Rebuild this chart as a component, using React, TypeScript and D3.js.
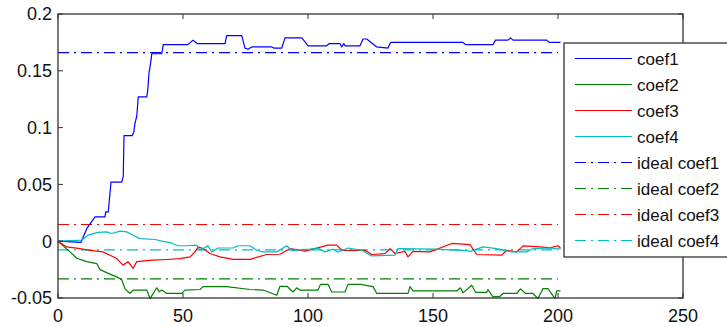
import React from 'react';
import * as d3 from 'd3';

// breakpoints: iteration index and coefficient value
const coef1X = [0, 9.2, 11.5, 14.8, 18.8, 19.1, 20.1, 20.4, 21.2, 25.5, 26.1, 26.4, 29.7, 30.3, 30.8, 31.5, 32.1, 35.5, 35.9, 36.4, 37.2, 37.5, 41.5, 42.1, 52, 54, 55.6, 66.8, 67.5, 73.5, 74.8, 76, 77.5, 85.5, 86.5, 89.5, 90.8, 97.5, 99, 100, 107.5, 108.5, 112.8, 113.5, 114.3, 114.8, 120.8, 122, 123.5, 127.5, 132, 133, 162, 163, 174, 175, 180, 181, 182, 195.5, 196.5, 201];
const coef1Y = [0, -0.001, 0.011, 0.0214, 0.0214, 0.0258, 0.0258, 0.033, 0.052, 0.052, 0.057, 0.093, 0.093, 0.096, 0.104, 0.11, 0.127, 0.127, 0.133, 0.148, 0.159, 0.165, 0.165, 0.173, 0.173, 0.177, 0.174, 0.174, 0.181, 0.181, 0.17, 0.169, 0.171, 0.171, 0.17, 0.17, 0.179, 0.179, 0.175, 0.172, 0.172, 0.174, 0.174, 0.171, 0.174, 0.172, 0.172, 0.178, 0.178, 0.171, 0.17, 0.175, 0.175, 0.173, 0.173, 0.177, 0.177, 0.179, 0.177, 0.177, 0.175, 0.175];

const coef2X = [0, 4.8, 7.5, 11.5, 15.5, 16.8, 20.8, 23.5, 25.5, 26.8, 28.8, 30, 35.5, 36.8, 39.5, 40.5, 41.5, 43.5, 49.5, 50.8, 56.8, 58, 67.5, 76.8, 82, 87.5, 88.8, 91.6, 94, 95.5, 96.8, 104, 105, 108, 109.5, 114.8, 116, 121, 126, 127.5, 140, 140.8, 142, 159.5, 161, 162, 165.5, 167, 171.5, 172, 174, 176.8, 178, 183.5, 185, 187, 190, 192, 194, 196, 198.8, 199.5, 201];
const coef2Y = [0, -0.0094, -0.015, -0.018, -0.0197, -0.025, -0.029, -0.0314, -0.034, -0.042, -0.046, -0.043, -0.043, -0.0505, -0.041, -0.0446, -0.043, -0.046, -0.046, -0.043, -0.0425, -0.04, -0.04, -0.0425, -0.043, -0.0476, -0.0397, -0.0397, -0.0447, -0.041, -0.043, -0.043, -0.038, -0.038, -0.0447, -0.0447, -0.038, -0.038, -0.04, -0.046, -0.046, -0.04, -0.0438, -0.0438, -0.041, -0.0455, -0.0388, -0.045, -0.045, -0.0425, -0.049, -0.0485, -0.046, -0.046, -0.042, -0.046, -0.046, -0.0505, -0.0417, -0.0417, -0.0505, -0.0438, -0.0438];

const coef3X = [0, 3.5, 8.8, 12.8, 18, 20.8, 23.5, 26, 28, 30, 31.5, 38, 43.5, 48.8, 52.8, 54.8, 56, 58, 60.8, 64.8, 70, 76.8, 83.5, 88.8, 92.8, 98.8, 108, 111.5, 113.5, 122.8, 125.5, 130.8, 132.8, 134.8, 138.8, 140, 142, 148.8, 157.5, 164.8, 167.5, 177.5, 179.5, 183.5, 186, 192.8, 196.8, 200, 201];
const coef3Y = [0, -0.005, -0.0065, -0.008, -0.0094, -0.0123, -0.0153, -0.0211, -0.018, -0.024, -0.018, -0.0167, -0.0161, -0.0153, -0.0138, -0.0094, -0.005, -0.0065, -0.0108, -0.0138, -0.016, -0.016, -0.0117, -0.0115, -0.0065, -0.0088, -0.0035, -0.0035, -0.008, -0.008, -0.0117, -0.011, -0.0065, -0.0108, -0.009, -0.0138, -0.009, -0.0094, -0.002, -0.003, -0.0117, -0.0123, -0.008, -0.0094, -0.0041, -0.005, -0.0059, -0.004, -0.0062];

const coef4X = [0, 9.5, 12, 16, 19.5, 21.5, 24.8, 27.5, 30, 32.8, 38.8, 41.5, 44.8, 48, 51.5, 55.5, 56.8, 60, 61.5, 64, 70, 72, 76.8, 79.5, 82, 87.5, 91.5, 93.5, 100.8, 104, 106.8, 110, 112, 116, 121.5, 125.5, 134.8, 136, 151, 162, 165, 170, 175.5, 181.5, 187.5, 190, 196.8, 201];
const coef4Y = [0, 0.001, 0.0053, 0.0077, 0.0082, 0.0068, 0.0088, 0.0082, 0.0053, 0.0023, 0.0015, 0, -0.0012, -0.004, -0.004, -0.0035, -0.008, -0.004, -0.0094, -0.006, -0.006, -0.004, -0.004, -0.008, -0.0094, -0.0094, -0.004, -0.008, -0.007, -0.006, -0.0094, -0.007, -0.0097, -0.006, -0.008, -0.013, -0.0123, -0.0065, -0.007, -0.008, -0.009, -0.005, -0.0065, -0.0094, -0.0094, -0.0065, -0.006, -0.007];

const idealValues = [0.166, -0.0332, 0.0147, -0.0077];
const seriesNames = ['coef1', 'coef2', 'coef3', 'coef4'];
const seriesColors = ['#0000ff', '#008000', '#ff0000', '#00bfbf'];
const xTicks = [0, 50, 100, 150, 200, 250];
const yTicks = [-0.05, 0, 0.05, 0.1, 0.15, 0.2];

const W = 727;
const H = 327;
const font = '"Liberation Sans", Arial, sans-serif';

export default function App() {
  const x = d3.scaleLinear().domain([0, 250]).range([58, 683]);
  const y = d3.scaleLinear().domain([-0.05, 0.2]).range([298, 14]);

  const series = [
    { xs: coef1X, ys: coef1Y },
    { xs: coef2X, ys: coef2Y },
    { xs: coef3X, ys: coef3Y },
    { xs: coef4X, ys: coef4Y },
  ];

  const line = d3
    .line<[number, number]>()
    .x((d) => x(d[0]))
    .y((d) => y(d[1]));

  const [x0, x1] = x.range();
  const [y0, y1] = y.range();
  const dash = '11,5,2,5';
  const axisColor = '#333';
  const tickLen = 5;

  const legendItems = [
    ...seriesNames.map((n, i) => ({ label: n, color: seriesColors[i], dashed: false })),
    ...seriesNames.map((n, i) => ({ label: 'ideal ' + n, color: seriesColors[i], dashed: true })),
  ];

  return (
    <svg
      width={W}
      height={H}
      style={{ position: 'absolute', left: 0, top: 0, background: '#fff' }}
    >
      <rect x={0} y={0} width={W} height={H} fill="#fff" />
      {/* ideal lines */}
      {idealValues.map((v, i) => (
        <line
          key={'ideal' + i}
          x1={x(0)}
          x2={x(200)}
          y1={y(v)}
          y2={y(v)}
          stroke={seriesColors[i]}
          strokeWidth={1.2}
          strokeDasharray={dash}
        />
      ))}
      {/* estimates */}
      {series.map((s, i) => (
        <path
          key={'s' + i}
          d={line(s.xs.map((v, j) => [v, s.ys[j]] as [number, number])) || ''}
          fill="none"
          stroke={seriesColors[i]}
          strokeWidth={1.2}
          strokeLinejoin="round"
        />
      ))}
      {/* box */}
      <rect
        x={x0}
        y={y1}
        width={x1 - x0}
        height={y0 - y1}
        fill="none"
        stroke={axisColor}
        strokeWidth={1.3}
      />
      {xTicks.map((t) => (
        <g key={'xt' + t}>
          <line x1={x(t)} x2={x(t)} y1={y0} y2={y0 - tickLen} stroke={axisColor} />
          <line x1={x(t)} x2={x(t)} y1={y1} y2={y1 + tickLen} stroke={axisColor} />
          <text
            x={x(t)}
            y={y0 + 24}
            textAnchor="middle"
            fontFamily={font}
            fontSize={18}
            fill="#111"
          >
            {t}
          </text>
        </g>
      ))}
      {yTicks.map((t) => (
        <g key={'yt' + t}>
          <line x1={x0} x2={x0 + tickLen} y1={y(t)} y2={y(t)} stroke={axisColor} />
          <line x1={x1} x2={x1 - tickLen} y1={y(t)} y2={y(t)} stroke={axisColor} />
          <text
            x={x0 - 6}
            y={y(t)}
            dy="0.36em"
            textAnchor="end"
            fontFamily={font}
            fontSize={18}
            fill="#111"
          >
            {String(t)}
          </text>
        </g>
      ))}
      {/* legend */}
      <rect x={564} y={43} width={200} height={214} fill="#fff" stroke={axisColor} strokeWidth={1.3} />
      {legendItems.map((it, i) => {
        const ly = 58.5 + i * 26;
        return (
          <g key={'lg' + i}>
            <line
              x1={575}
              x2={632}
              y1={ly}
              y2={ly}
              stroke={it.color}
              strokeWidth={1.2}
              strokeDasharray={it.dashed ? dash : undefined}
            />
            <text x={637} y={ly} dy="0.36em" fontFamily={font} fontSize={17} fill="#111">
              {it.label}
            </text>
          </g>
        );
      })}
    </svg>
  );
}
